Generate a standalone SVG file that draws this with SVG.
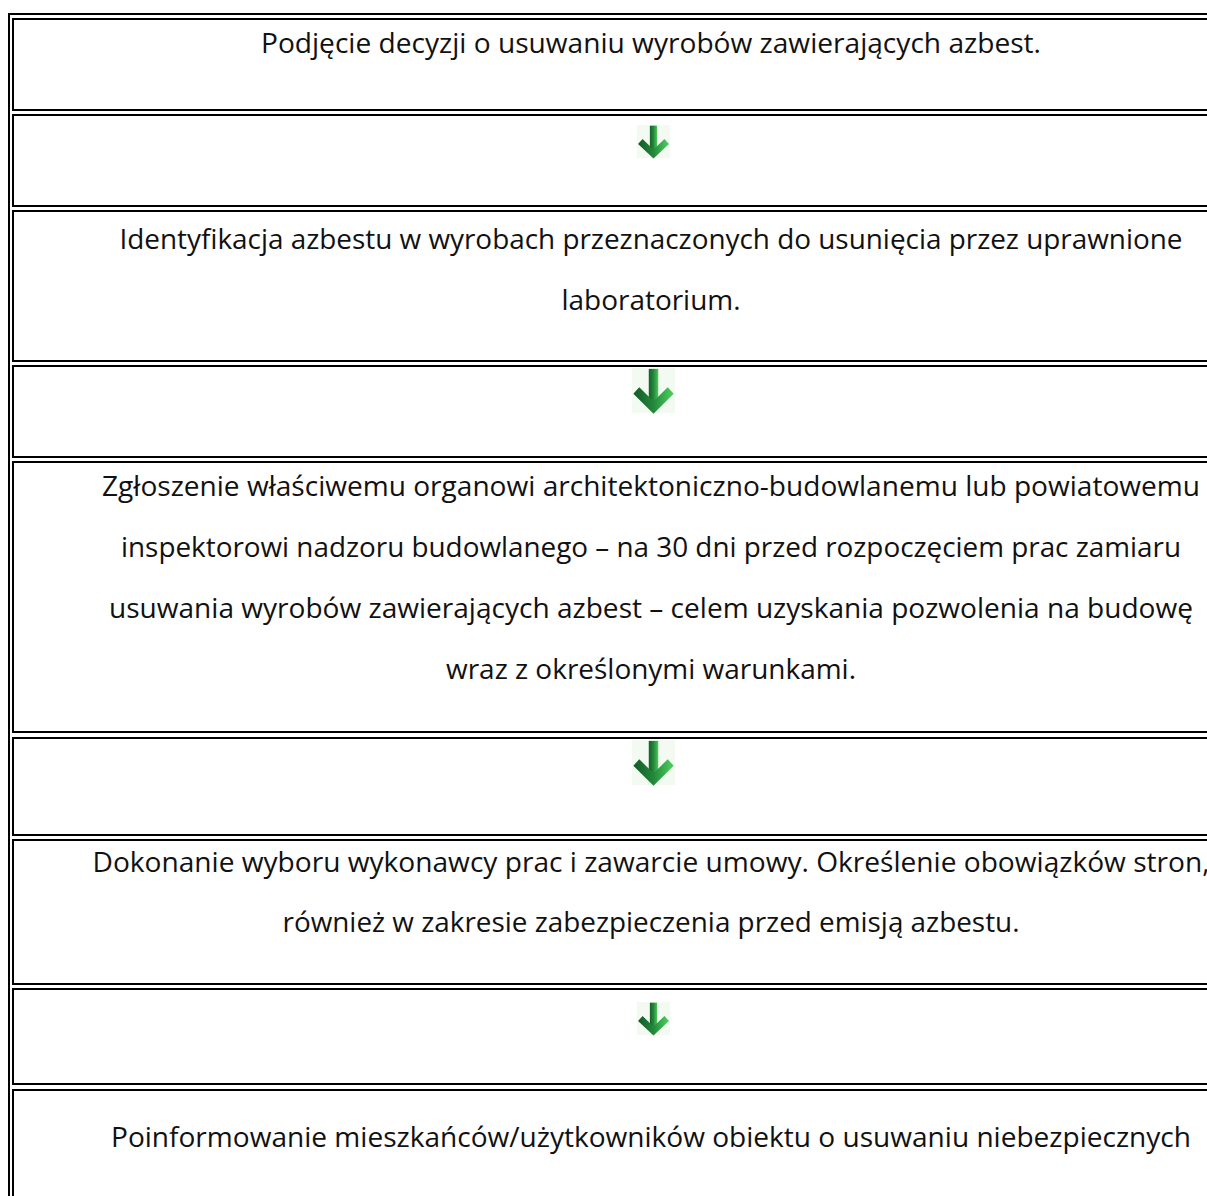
<svg xmlns="http://www.w3.org/2000/svg" width="1207" height="1196" viewBox="0 0 1207 1196">
<style>
.frame{fill:none;stroke:#000;stroke-width:2}
.t{font-family:"Open Sans","Noto Sans",sans-serif;font-size:28px;fill:#111;text-anchor:middle}
</style>
<defs>
<linearGradient id="gg" x1="0" y1="0" x2="1" y2="0">
<stop offset="0" stop-color="#15602a"/>
<stop offset="0.5" stop-color="#23883a"/>
<stop offset="1" stop-color="#49c75a"/>
</linearGradient>
<g id="arr">
<rect x="0" y="0" width="100" height="100" fill="#f2faf2"/>
<rect x="39" y="2" width="22" height="80" fill="url(#gg)"/>
<polyline points="10,50 50,88 90,50" fill="none" stroke="url(#gg)" stroke-width="20" stroke-linejoin="miter"/>
</g>
</defs>
<rect width="1207" height="1196" fill="#fff"/>
<g id="table">
<rect class="frame" x="9" y="14" width="1400" height="1400"/>
<rect class="frame" x="13" y="115" width="1400" height="91"/>
<rect class="frame" x="13" y="366" width="1400" height="91"/>
<rect class="frame" x="13" y="738" width="1400" height="97"/>
<rect class="frame" x="13" y="989" width="1400" height="95"/>
</g>
<g id="step1">
<rect class="frame" x="13" y="19" width="1400" height="91"/>
<text class="t" x="651" y="53" textLength="780" lengthAdjust="spacingAndGlyphs">Podjęcie decyzji o usuwaniu wyrobów zawierających azbest.</text>
</g>
<g id="step2">
<rect class="frame" x="13" y="211" width="1400" height="150"/>
<text class="t" x="651" y="249" textLength="1063" lengthAdjust="spacingAndGlyphs">Identyfikacja azbestu w wyrobach przeznaczonych do usunięcia przez uprawnione</text>
<text class="t" x="651" y="310" textLength="179" lengthAdjust="spacingAndGlyphs">laboratorium.</text>
</g>
<g id="step3">
<rect class="frame" x="13" y="462" width="1400" height="270"/>
<text class="t" x="651" y="496" textLength="1098" lengthAdjust="spacingAndGlyphs">Zgłoszenie właściwemu organowi architektoniczno-budowlanemu lub powiatowemu</text>
<text class="t" x="651" y="557" textLength="1060" lengthAdjust="spacingAndGlyphs">inspektorowi nadzoru budowlanego – na 30 dni przed rozpoczęciem prac zamiaru</text>
<text class="t" x="651" y="618" textLength="1084" lengthAdjust="spacingAndGlyphs">usuwania wyrobów zawierających azbest – celem uzyskania pozwolenia na budowę</text>
<text class="t" x="651" y="679" textLength="410" lengthAdjust="spacingAndGlyphs">wraz z określonymi warunkami.</text>
</g>
<g id="step4">
<rect class="frame" x="13" y="840" width="1400" height="144"/>
<text class="t" x="651" y="872" textLength="1117" lengthAdjust="spacingAndGlyphs">Dokonanie wyboru wykonawcy prac i zawarcie umowy. Określenie obowiązków stron,</text>
<text class="t" x="651" y="932" textLength="737" lengthAdjust="spacingAndGlyphs">również w zakresie zabezpieczenia przed emisją azbestu.</text>
</g>
<g id="step5">
<rect class="frame" x="13" y="1090" width="1400" height="200"/>
<text class="t" x="651" y="1147" textLength="1080" lengthAdjust="spacingAndGlyphs">Poinformowanie mieszkańców/użytkowników obiektu o usuwaniu niebezpiecznych</text>
</g>
<g id="connectors">
<use href="#arr" transform="translate(637,125) scale(0.33)"/>
<use href="#arr" transform="translate(632,368) scale(0.43,0.45)"/>
<use href="#arr" transform="translate(632,740) scale(0.43,0.45)"/>
<use href="#arr" transform="translate(637,1002) scale(0.33)"/>
</g>
</svg>
